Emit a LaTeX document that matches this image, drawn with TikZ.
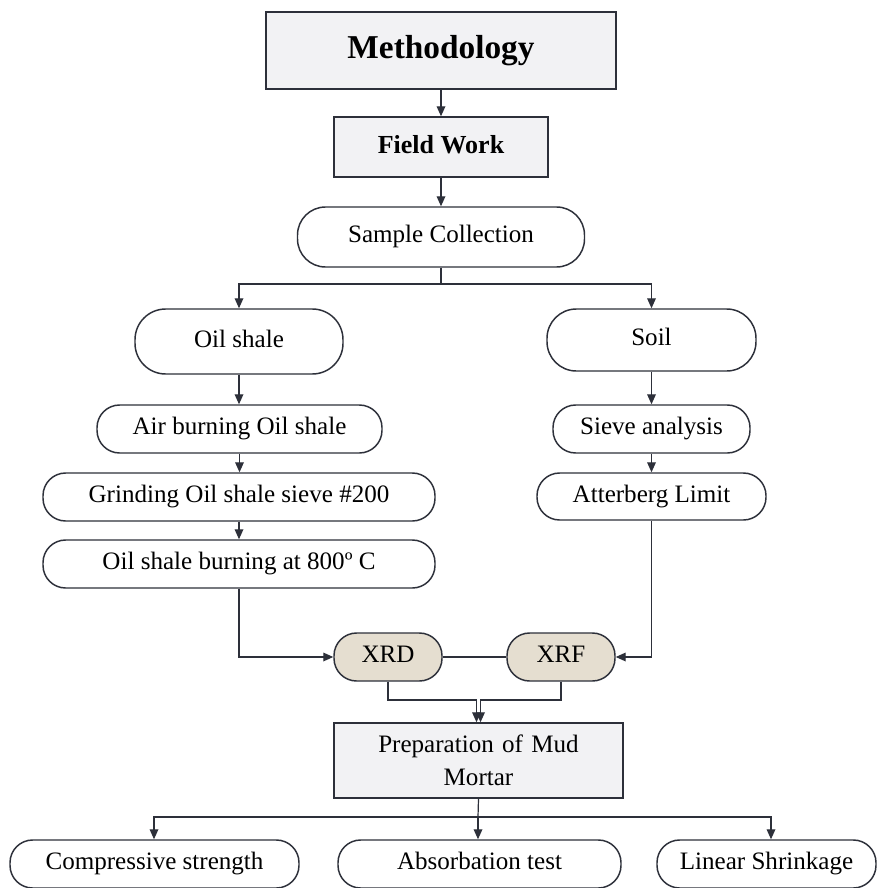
\documentclass[tikz,border=0pt]{standalone}
\usepackage{fontspec}
\setmainfont{Liberation Serif}
\usetikzlibrary{arrows.meta}
\definecolor{lc}{RGB}{45,48,58}
\definecolor{gbox}{RGB}{242,242,244}
\definecolor{beige}{RGB}{229,222,208}
\begin{document}
\begin{tikzpicture}[x=0.75pt,y=-0.75pt,
  base/.style={draw=lc, line width=1.1pt, inner sep=0pt, align=center, font=\fontsize{18.8}{25}\selectfont},
  oneline/.style={text height=12.8pt, text depth=4pt},
  sqbox/.style={base, fill=gbox},
  rbox/.style={base, oneline, fill=white, rounded corners=17pt, minimum height=36pt},
  xbox/.style={base, oneline, fill=beige, rounded corners=17pt, minimum height=36pt, minimum width=81pt},
  arr/.style={draw=lc, line width=0.9pt, -{Triangle[length=7.5pt,width=6.5pt]}},
  ln/.style={draw=lc, line width=0.9pt}]
\fill[white] (0,0) rectangle (877,888);
\useasboundingbox (0,0) rectangle (877,888);

\node[sqbox, text height=17pt, text depth=5.3pt, minimum width=262.5pt, minimum height=57.75pt, font=\fontsize{25}{30}\selectfont\bfseries] (meth) at (441,50.5) {Methodology};
\node[sqbox, text height=13.3pt, text depth=4.1pt, minimum width=160.5pt, minimum height=45pt, font=\fontsize{19.5}{24}\selectfont\bfseries] (field) at (441,147) {Field Work};
\node[rbox, minimum width=215.25pt, minimum height=45pt, rounded corners=21pt] (sample) at (441,237) {Sample Collection};

\node[rbox, minimum width=156pt, minimum height=48.75pt, rounded corners=23pt] (oil) at (239,341.5) {Oil shale};
\node[rbox, minimum width=156.75pt, minimum height=46.5pt, rounded corners=22pt] (soil) at (651.5,340) {Soil};

\node[rbox, minimum width=213.75pt] (air) at (239.5,429) {Air burning Oil shale};
\node[rbox, minimum width=294pt] (grind) at (239,497) {Grinding Oil shale sieve \#200};
\node[rbox, minimum width=294pt] (burn) at (239,564) {Oil shale burning at 800º C};

\node[rbox, minimum width=147.75pt] (sieve) at (651.5,429) {Sieve analysis};
\node[rbox, minimum width=171.75pt, minimum height=35.25pt] (atter) at (651.5,496.5) {Atterberg Limit};

\node[xbox] (xrd) at (388,657) {XRD};
\node[xbox] (xrf) at (561,657) {XRF};

\node[sqbox, minimum width=216.75pt, minimum height=56.25pt, text width=200pt] (prep) at (478.5,760.5) {Preparation of Mud\\Mortar};

\node[rbox, minimum width=216.75pt] (comp) at (154.5,864) {Compressive strength};
\node[rbox, minimum width=212.25pt] (abs) at (479.5,864) {Absorbation test};
\node[rbox, minimum width=164.25pt] (lin) at (766.5,864) {Linear Shrinkage};

% connectors
\draw[arr] (meth.south) -- (field.south |- field.north);
\draw[arr] (field.south) -- (field.south |- sample.north);
\coordinate (b1) at (441,284);
\draw[ln] (sample.south) -- (b1);
\draw[arr] (b1) -| (oil.north);
\draw[arr] (b1) -| (soil.north);

\draw[arr] (oil.south) -- (oil.south |- air.north);
\draw[arr] (air.south) -- (air.south |- grind.north);
\draw[arr] (grind.south) -- (grind.south |- burn.north);

\draw[arr] (soil.south) -- (soil.south |- sieve.north);
\draw[arr] (sieve.south) -- (sieve.south |- atter.north);

\draw[arr] (burn.south) |- (xrd.west);
\draw[arr] (atter.south) |- (xrf.east);
\draw[ln] (xrd.east) -- (xrf.west);

\coordinate (m1) at (476.5,700);
\coordinate (m2) at (480.5,700);
\draw[arr] (xrd.south) |- (m1) -- (m1 |- prep.north);
\draw[arr] (xrf.south) |- (m2) -- (m2 |- prep.north);

\coordinate (b2) at (478,817);
\coordinate (c1) at (154,817);
\coordinate (c3) at (771,817);
\draw[ln] (prep.south) -- (b2);
\draw[arr] (b2) -- (b2 |- abs.north);
\draw[arr] (b2) -- (c1) -- (c1 |- comp.north);
\draw[arr] (b2) -- (c3) -- (c3 |- lin.north);
\end{tikzpicture}
\end{document}
